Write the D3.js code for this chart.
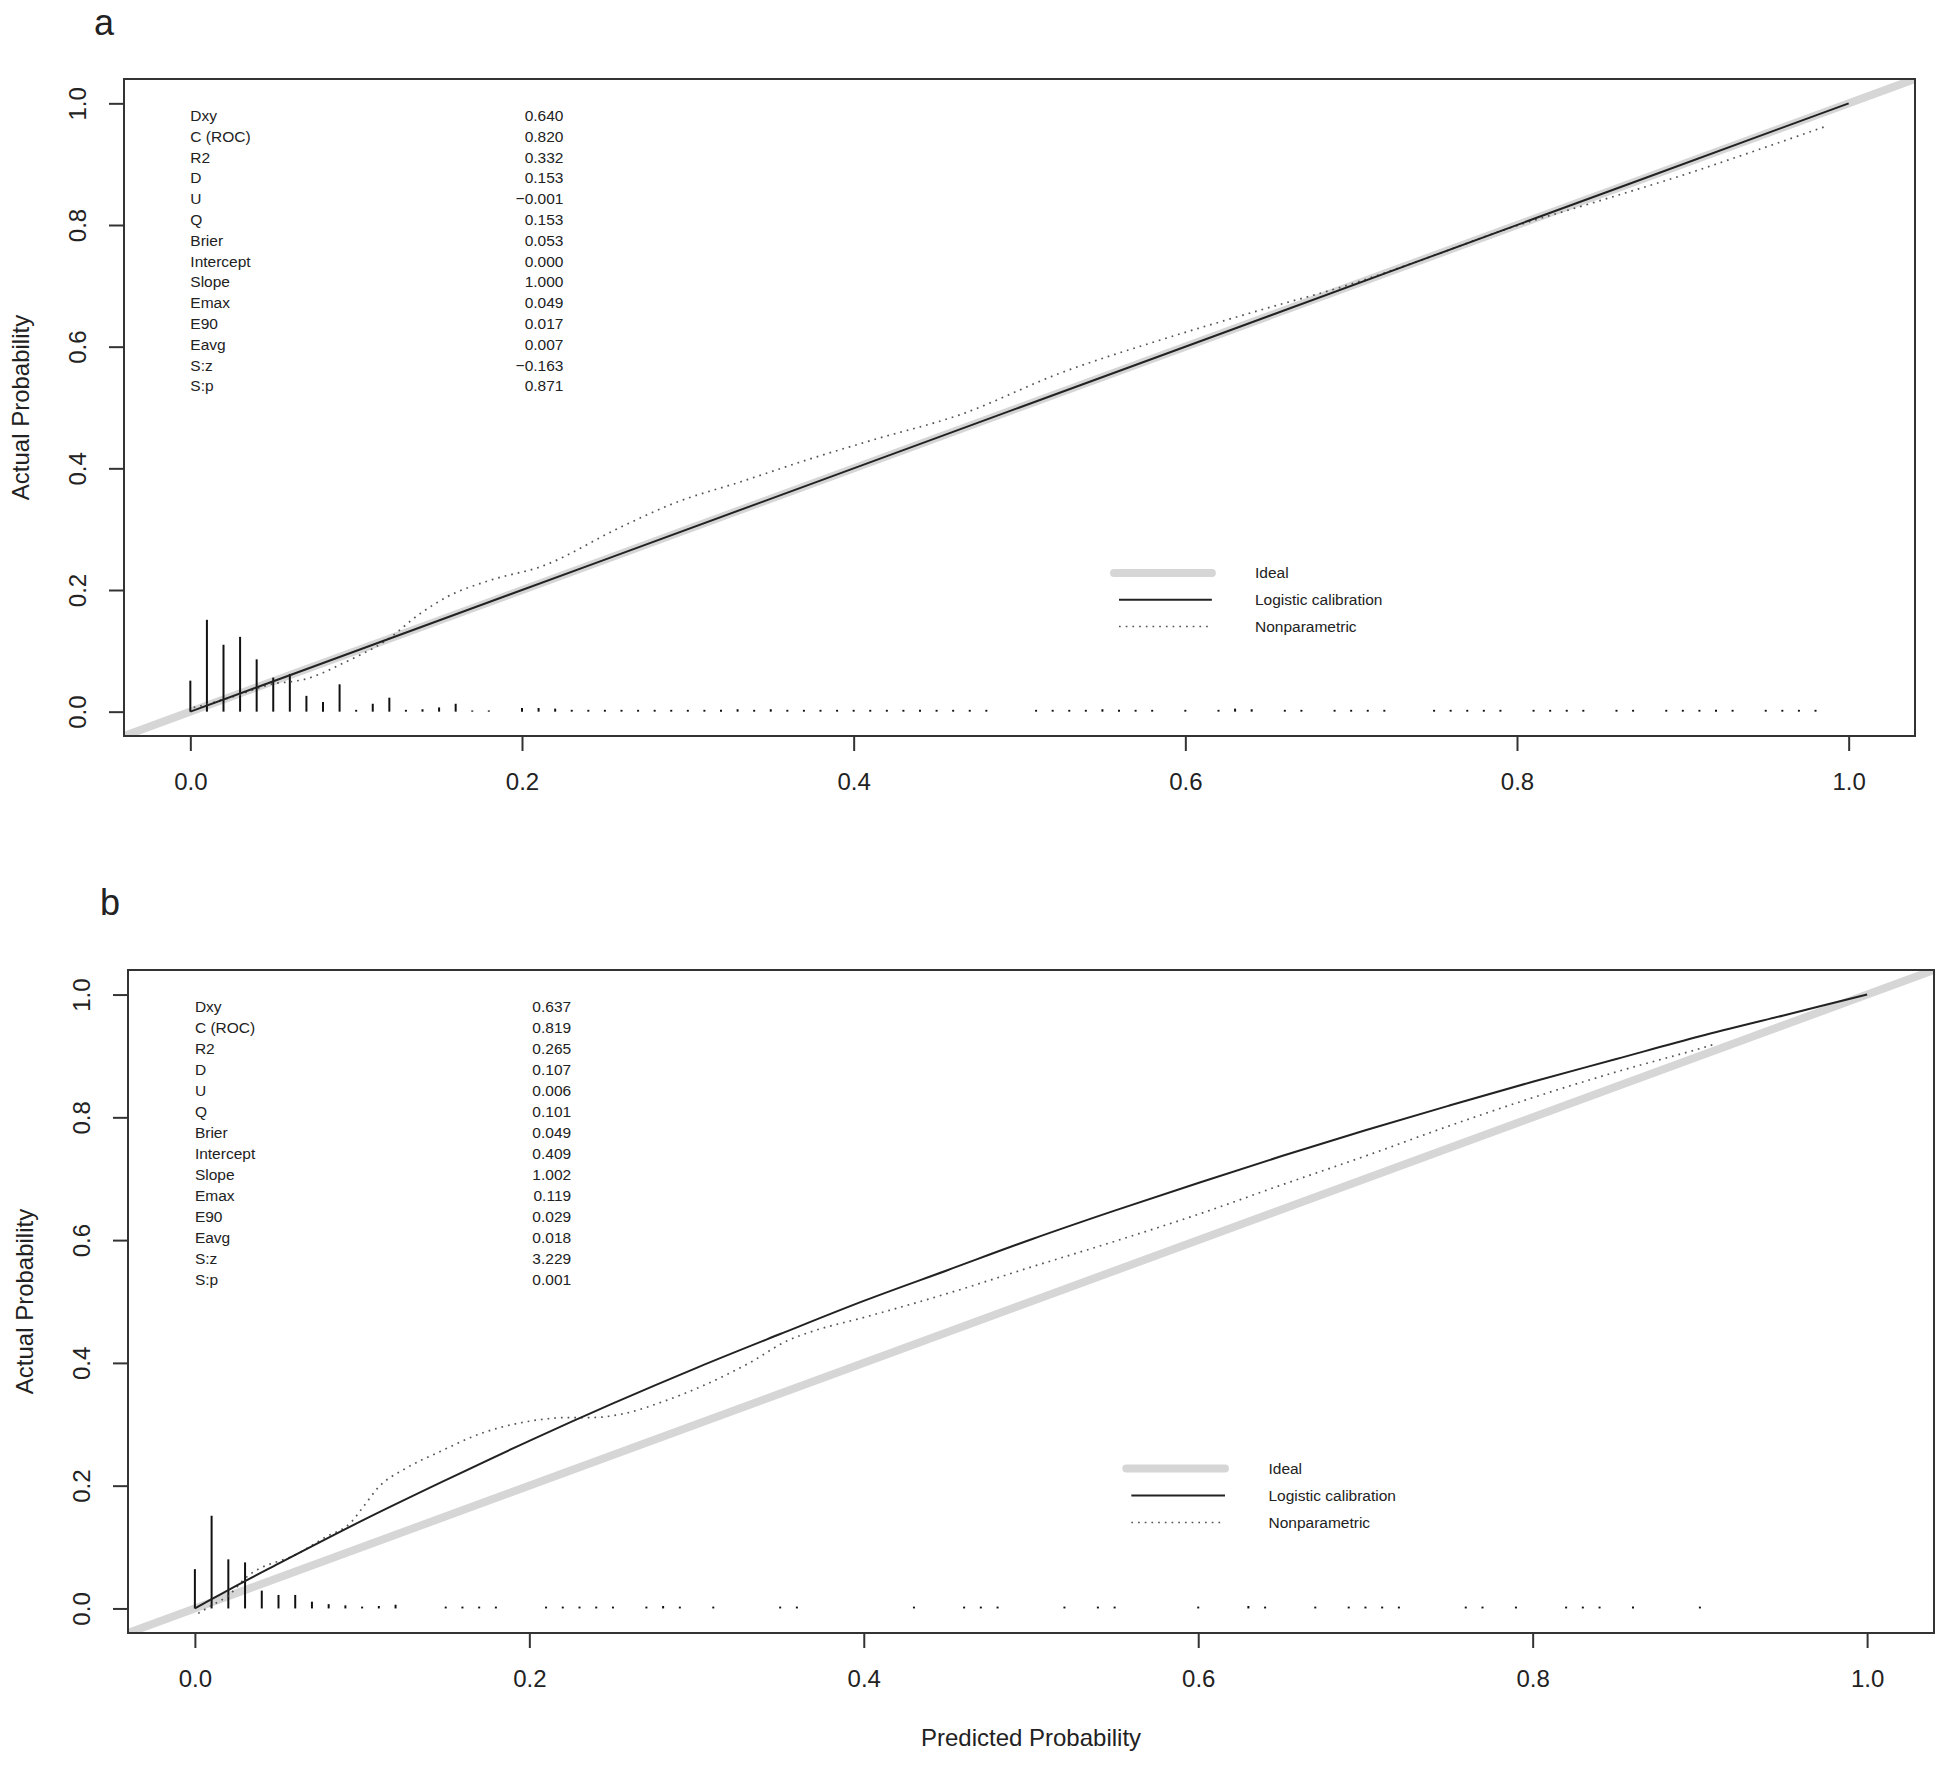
<!DOCTYPE html>
<html>
<head>
<meta charset="utf-8">
<script src="https://cdn.jsdelivr.net/npm/d3@7"></script>
<style>
  body { margin: 0; background: #fff; }
  text { font-family: "Liberation Sans", Arial, sans-serif; fill: #222; }
</style>
</head>
<body>
<div id="chart-container"></div>
<script>
// ---- data ----
const axisTicks = [0, 0.2, 0.4, 0.6, 0.8, 1.0];
const statNames = ['Dxy', 'C (ROC)', 'R2', 'D', 'U', 'Q', 'Brier', 'Intercept', 'Slope', 'Emax', 'E90', 'Eavg', 'S:z', 'S:p'];
const statsA = ['0.640', '0.820', '0.332', '0.153', '\u22120.001', '0.153', '0.053', '0.000', '1.000', '0.049', '0.017', '0.007', '\u22120.163', '0.871'];
const statsB = ['0.637', '0.819', '0.265', '0.107', '0.006', '0.101', '0.049', '0.409', '1.002', '0.119', '0.029', '0.018', '3.229', '0.001'];
const legendLabels = ['Ideal', 'Logistic calibration', 'Nonparametric'];

// logistic calibration curves [predicted, actual]
const logisticA = [[0, 0], [0.25, 0.25], [0.5, 0.5], [0.75, 0.75], [1, 1]];
const logisticB = [[0, 0], [0.01, 0.015], [0.02, 0.03], [0.05, 0.073], [0.1, 0.143], [0.15, 0.209], [0.2, 0.273],
  [0.25, 0.334], [0.3, 0.392], [0.35, 0.447], [0.4, 0.501], [0.45, 0.551], [0.5, 0.601], [0.55, 0.648],
  [0.6, 0.693], [0.65, 0.737], [0.7, 0.779], [0.75, 0.819], [0.8, 0.858], [0.85, 0.895], [0.9, 0.932],
  [0.95, 0.966], [1, 1]];

// nonparametric (loess) curves
const nonparamA = [[0.002, 0.007], [0.01, 0.012], [0.02, 0.02], [0.03, 0.028], [0.04, 0.038], [0.05, 0.046],
  [0.06, 0.049], [0.07, 0.054], [0.08, 0.064], [0.09, 0.077], [0.1, 0.09], [0.117, 0.115], [0.139, 0.162],
  [0.155, 0.189], [0.182, 0.217], [0.211, 0.238], [0.26, 0.304], [0.292, 0.343], [0.332, 0.378],
  [0.372, 0.414], [0.412, 0.447], [0.464, 0.488], [0.525, 0.557], [0.585, 0.611], [0.645, 0.66],
  [0.7, 0.703], [0.75, 0.75], [0.79, 0.79], [0.85, 0.84], [0.9, 0.882], [0.95, 0.928], [0.986, 0.962]];
const nonparamB = [[0.002, -0.008], [0.01, 0.005], [0.02, 0.021], [0.03, 0.049], [0.062, 0.09], [0.078, 0.116],
  [0.094, 0.142], [0.1, 0.163], [0.11, 0.198], [0.126, 0.228], [0.147, 0.256], [0.171, 0.285],
  [0.198, 0.304], [0.224, 0.311], [0.238, 0.311], [0.256, 0.317], [0.28, 0.337], [0.304, 0.363],
  [0.331, 0.399], [0.355, 0.437], [0.37, 0.452], [0.4, 0.474], [0.45, 0.513], [0.5, 0.556],
  [0.55, 0.598], [0.6, 0.642], [0.65, 0.69], [0.7, 0.737], [0.75, 0.786], [0.8, 0.832],
  [0.85, 0.874], [0.9, 0.912], [0.91, 0.92]];

// distribution of predicted risk (spike heights)
const spikesA = [[0, 0.051], [0.01, 0.151], [0.02, 0.11], [0.03, 0.123], [0.04, 0.086], [0.05, 0.056], [0.06, 0.062],
  [0.07, 0.026], [0.08, 0.016], [0.09, 0.045], [0.1, 0.003], [0.11, 0.013], [0.12, 0.023], [0.13, 0.003],
  [0.14, 0.004], [0.15, 0.007], [0.16, 0.013], [0.17, 0.002], [0.18, 0.002], [0.2, 0.006], [0.21, 0.006],
  [0.22, 0.005], [0.23, 0.003], [0.24, 0.003], [0.25, 0.003], [0.26, 0.003], [0.27, 0.003], [0.28, 0.003],
  [0.29, 0.003], [0.3, 0.003], [0.31, 0.003], [0.32, 0.003], [0.33, 0.004], [0.34, 0.003], [0.35, 0.004],
  [0.36, 0.003], [0.37, 0.003], [0.38, 0.003], [0.39, 0.003], [0.4, 0.003], [0.41, 0.003], [0.42, 0.003],
  [0.43, 0.003], [0.44, 0.003], [0.45, 0.003], [0.46, 0.003], [0.47, 0.003], [0.48, 0.003], [0.51, 0.003],
  [0.52, 0.003], [0.53, 0.003], [0.54, 0.003], [0.55, 0.004], [0.56, 0.003], [0.57, 0.003], [0.58, 0.003],
  [0.6, 0.003], [0.62, 0.003], [0.63, 0.005], [0.64, 0.004], [0.66, 0.003], [0.67, 0.003], [0.69, 0.003],
  [0.7, 0.003], [0.71, 0.003], [0.72, 0.003], [0.75, 0.003], [0.76, 0.003], [0.77, 0.003], [0.78, 0.003],
  [0.79, 0.003], [0.81, 0.003], [0.82, 0.003], [0.83, 0.003], [0.84, 0.003], [0.86, 0.003], [0.87, 0.003],
  [0.89, 0.003], [0.9, 0.003], [0.91, 0.003], [0.92, 0.003], [0.93, 0.003], [0.95, 0.003], [0.96, 0.003],
  [0.97, 0.003], [0.98, 0.003]];
const spikesB = [[0, 0.064], [0.01, 0.151], [0.02, 0.08], [0.03, 0.075], [0.04, 0.029], [0.05, 0.022], [0.06, 0.022],
  [0.07, 0.011], [0.08, 0.007], [0.09, 0.005], [0.1, 0.003], [0.11, 0.004], [0.12, 0.006], [0.15, 0.003],
  [0.16, 0.003], [0.17, 0.003], [0.18, 0.003], [0.21, 0.003], [0.22, 0.003], [0.23, 0.003], [0.24, 0.003],
  [0.25, 0.003], [0.27, 0.003], [0.28, 0.004], [0.29, 0.003], [0.31, 0.003], [0.35, 0.003], [0.36, 0.003],
  [0.43, 0.003], [0.46, 0.003], [0.47, 0.003], [0.48, 0.003], [0.52, 0.003], [0.54, 0.003], [0.55, 0.003],
  [0.6, 0.003], [0.63, 0.004], [0.64, 0.003], [0.67, 0.003], [0.69, 0.003], [0.7, 0.003], [0.71, 0.003],
  [0.72, 0.003], [0.76, 0.003], [0.77, 0.003], [0.79, 0.003], [0.82, 0.003], [0.83, 0.003], [0.84, 0.003],
  [0.86, 0.003], [0.9, 0.003]];

// ---- layout ----
const WIDTH = 1949, HEIGHT = 1780;
const DOMAIN = [-0.04, 1.04];
const IDEAL_COLOR = '#d6d6d6';

const svg = d3.select('#chart-container')
  .append('svg')
    .attr('width', WIDTH)
    .attr('height', HEIGHT)
    .style('background', '#fff');

drawPanel({id: 'a', letter: 'a', letterX: 94, letterY: 35, left: 124, right: 1915, top: 79, bottom: 736,
  stats: statsA, logistic: logisticA, nonparam: nonparamA, spikes: spikesA, xTitle: false});
drawPanel({id: 'b', letter: 'b', letterX: 100, letterY: 915, left: 128, right: 1934, top: 970, bottom: 1633,
  stats: statsB, logistic: logisticB, nonparam: nonparamB, spikes: spikesB, xTitle: true});

function drawPanel(p) {
  const x = d3.scaleLinear().domain(DOMAIN).range([p.left, p.right]);
  const y = d3.scaleLinear().domain(DOMAIN).range([p.bottom, p.top]);
  const line = d3.line().x(d => x(d[0])).y(d => y(d[1]));
  const smooth = d3.line().x(d => x(d[0])).y(d => y(d[1])).curve(d3.curveMonotoneX);

  const g = svg.append('g');

  svg.append('clipPath')
    .attr('id', 'clip-' + p.id)
    .append('rect')
      .attr('x', p.left).attr('y', p.top)
      .attr('width', p.right - p.left).attr('height', p.bottom - p.top);

  const plot = g.append('g').attr('clip-path', `url(#clip-${p.id})`);

  // ideal line, corner to corner
  plot.append('path')
    .attr('d', line([[DOMAIN[0], DOMAIN[0]], [DOMAIN[1], DOMAIN[1]]]))
    .attr('fill', 'none')
    .attr('stroke', IDEAL_COLOR)
    .attr('stroke-width', 8);

  // spikes for the risk distribution
  plot.selectAll('line.spike')
    .data(p.spikes)
    .join('line')
      .attr('class', 'spike')
      .attr('x1', d => x(d[0])).attr('x2', d => x(d[0]))
      .attr('y1', y(0)).attr('y2', d => y(d[1]))
      .attr('stroke', '#111')
      .attr('stroke-width', 2);

  plot.append('path')
    .datum(p.nonparam)
    .attr('d', smooth)
    .attr('fill', 'none')
    .attr('stroke', '#555')
    .attr('stroke-width', 1.7)
    .attr('stroke-dasharray', '1.7 5');

  plot.append('path')
    .datum(p.logistic)
    .attr('d', smooth)
    .attr('fill', 'none')
    .attr('stroke', '#222')
    .attr('stroke-width', 2);

  // box
  g.append('rect')
    .attr('x', p.left).attr('y', p.top)
    .attr('width', p.right - p.left).attr('height', p.bottom - p.top)
    .attr('fill', 'none')
    .attr('stroke', '#333')
    .attr('stroke-width', 2);

  // axes, R style (ticks outside, no domain line)
  const xAxis = g.append('g')
    .attr('transform', `translate(0, ${p.bottom})`)
    .call(d3.axisBottom(x).tickValues(axisTicks).tickFormat(d3.format('.1f')).tickSize(15).tickPadding(30));
  const yAxis = g.append('g')
    .attr('transform', `translate(${p.left}, 0)`)
    .call(d3.axisLeft(y).tickValues(axisTicks).tickFormat(d3.format('.1f')).tickSize(15));

  [xAxis, yAxis].forEach(a => {
    a.select('.domain').remove();
    a.selectAll('.tick line').attr('stroke', '#333').attr('stroke-width', 2);
    a.selectAll('.tick text').attr('font-size', 24).attr('fill', '#222')
      .attr('font-family', '"Liberation Sans", Arial, sans-serif');
  });
  xAxis.selectAll('.tick text').attr('dy', null).attr('y', 54);
  yAxis.selectAll('.tick text')
    .attr('x', null).attr('dy', null)
    .attr('text-anchor', 'middle')
    .attr('transform', 'translate(-38, 0) rotate(-90)');

  // axis titles
  g.append('text')
    .attr('transform', `translate(${p.left - 95}, ${(p.top + p.bottom) / 2}) rotate(-90)`)
    .attr('text-anchor', 'middle')
    .attr('font-size', 24)
    .text('Actual Probability');

  if (p.xTitle) {
    g.append('text')
      .attr('x', (p.left + p.right) / 2)
      .attr('y', p.bottom + 113)
      .attr('text-anchor', 'middle')
      .attr('font-size', 24)
      .text('Predicted Probability');
  }

  // panel letter
  svg.append('text')
    .attr('x', p.letterX).attr('y', p.letterY)
    .attr('font-family', '"DejaVu Sans", sans-serif')
    .attr('font-size', 36)
    .attr('fill', '#111')
    .text(p.letter);

  // statistics table in the top-left corner
  const rowStep = 0.0342;
  const table = g.append('g').attr('font-size', 15.5);
  table.selectAll('text.name')
    .data(statNames)
    .join('text')
      .attr('class', 'name')
      .attr('x', x(0))
      .attr('y', (d, i) => y(0.98 - i * rowStep))
      .attr('dy', '0.35em')
      .text(d => d);
  table.selectAll('text.value')
    .data(p.stats)
    .join('text')
      .attr('class', 'value')
      .attr('x', x(0.225))
      .attr('y', (d, i) => y(0.98 - i * rowStep))
      .attr('dy', '0.35em')
      .attr('text-anchor', 'end')
      .text(d => d);

  // legend
  const legendY = [0.228, 0.184, 0.14];
  const legend = g.append('g');
  legend.append('line')
    .attr('x1', x(0.557)).attr('x2', x(0.616))
    .attr('y1', y(legendY[0])).attr('y2', y(legendY[0]))
    .attr('stroke', IDEAL_COLOR).attr('stroke-width', 8).attr('stroke-linecap', 'round');
  legend.append('line')
    .attr('x1', x(0.56)).attr('x2', x(0.616))
    .attr('y1', y(legendY[1])).attr('y2', y(legendY[1]))
    .attr('stroke', '#222').attr('stroke-width', 2);
  legend.append('line')
    .attr('x1', x(0.56)).attr('x2', x(0.616))
    .attr('y1', y(legendY[2])).attr('y2', y(legendY[2]))
    .attr('stroke', '#555').attr('stroke-width', 1.7).attr('stroke-dasharray', '1.7 5');
  legend.selectAll('text')
    .data(legendLabels)
    .join('text')
      .attr('x', x(0.642))
      .attr('y', (d, i) => y(legendY[i]))
      .attr('dy', '0.35em')
      .attr('font-size', 15.5)
      .text(d => d);
}
</script>
</body>
</html>
